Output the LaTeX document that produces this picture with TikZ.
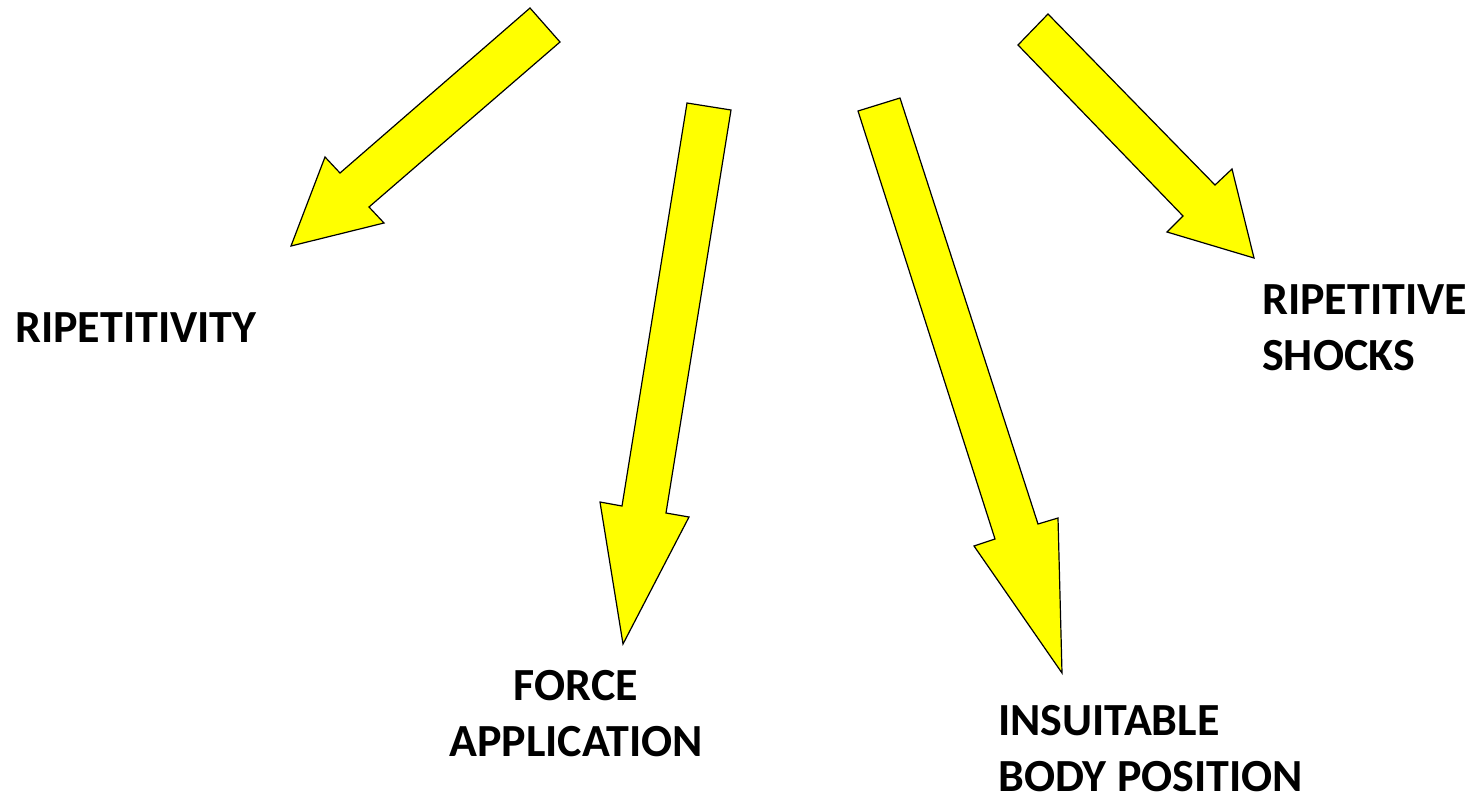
\documentclass[tikz,border=0pt]{standalone}
\usepackage{fontspec}
\setmainfont{Carlito}
\definecolor{arrowyellow}{RGB}{255,255,0}
\begin{document}
\begin{tikzpicture}[x=1pt,y=-1pt,
  bigarrow/.style={draw=black,line width=1.2pt,fill=arrowyellow,line join=miter},
  label/.style={font=\bfseries\fontsize{46}{56}\selectfont,inner sep=0pt}]
\useasboundingbox (0,0) rectangle (1474,801);
\draw[bigarrow] (530,8) -- (560,42) -- (369,207) -- (384,223) -- (291,246) -- (325,157) -- (340,173) -- cycle;
\draw[bigarrow] (687,103) -- (731,110) -- (666,513) -- (689,517) -- (623,644) -- (600,502) -- (622,506) -- cycle;
\draw[bigarrow] (858,111) -- (900,98) -- (1038,524) -- (1058,518) -- (1062,673) -- (974,546) -- (995,539) -- cycle;
\draw[bigarrow] (1018,45) -- (1048,14) -- (1215,185) -- (1232,169) -- (1254,258) -- (1167,232) -- (1183,216) -- cycle;
\node[label,anchor=west] (rip) at (15,328) {RIPETITIVITY};
\node[label,align=center] (force) at (576,714) {FORCE\\APPLICATION};
\node[label,align=left,anchor=west] (ins) at (998,749) {INSUITABLE\\BODY POSITION};
\node[label,align=left,anchor=west] (shock) at (1262,328) {RIPETITIVE\\SHOCKS};
\end{tikzpicture}
\end{document}
